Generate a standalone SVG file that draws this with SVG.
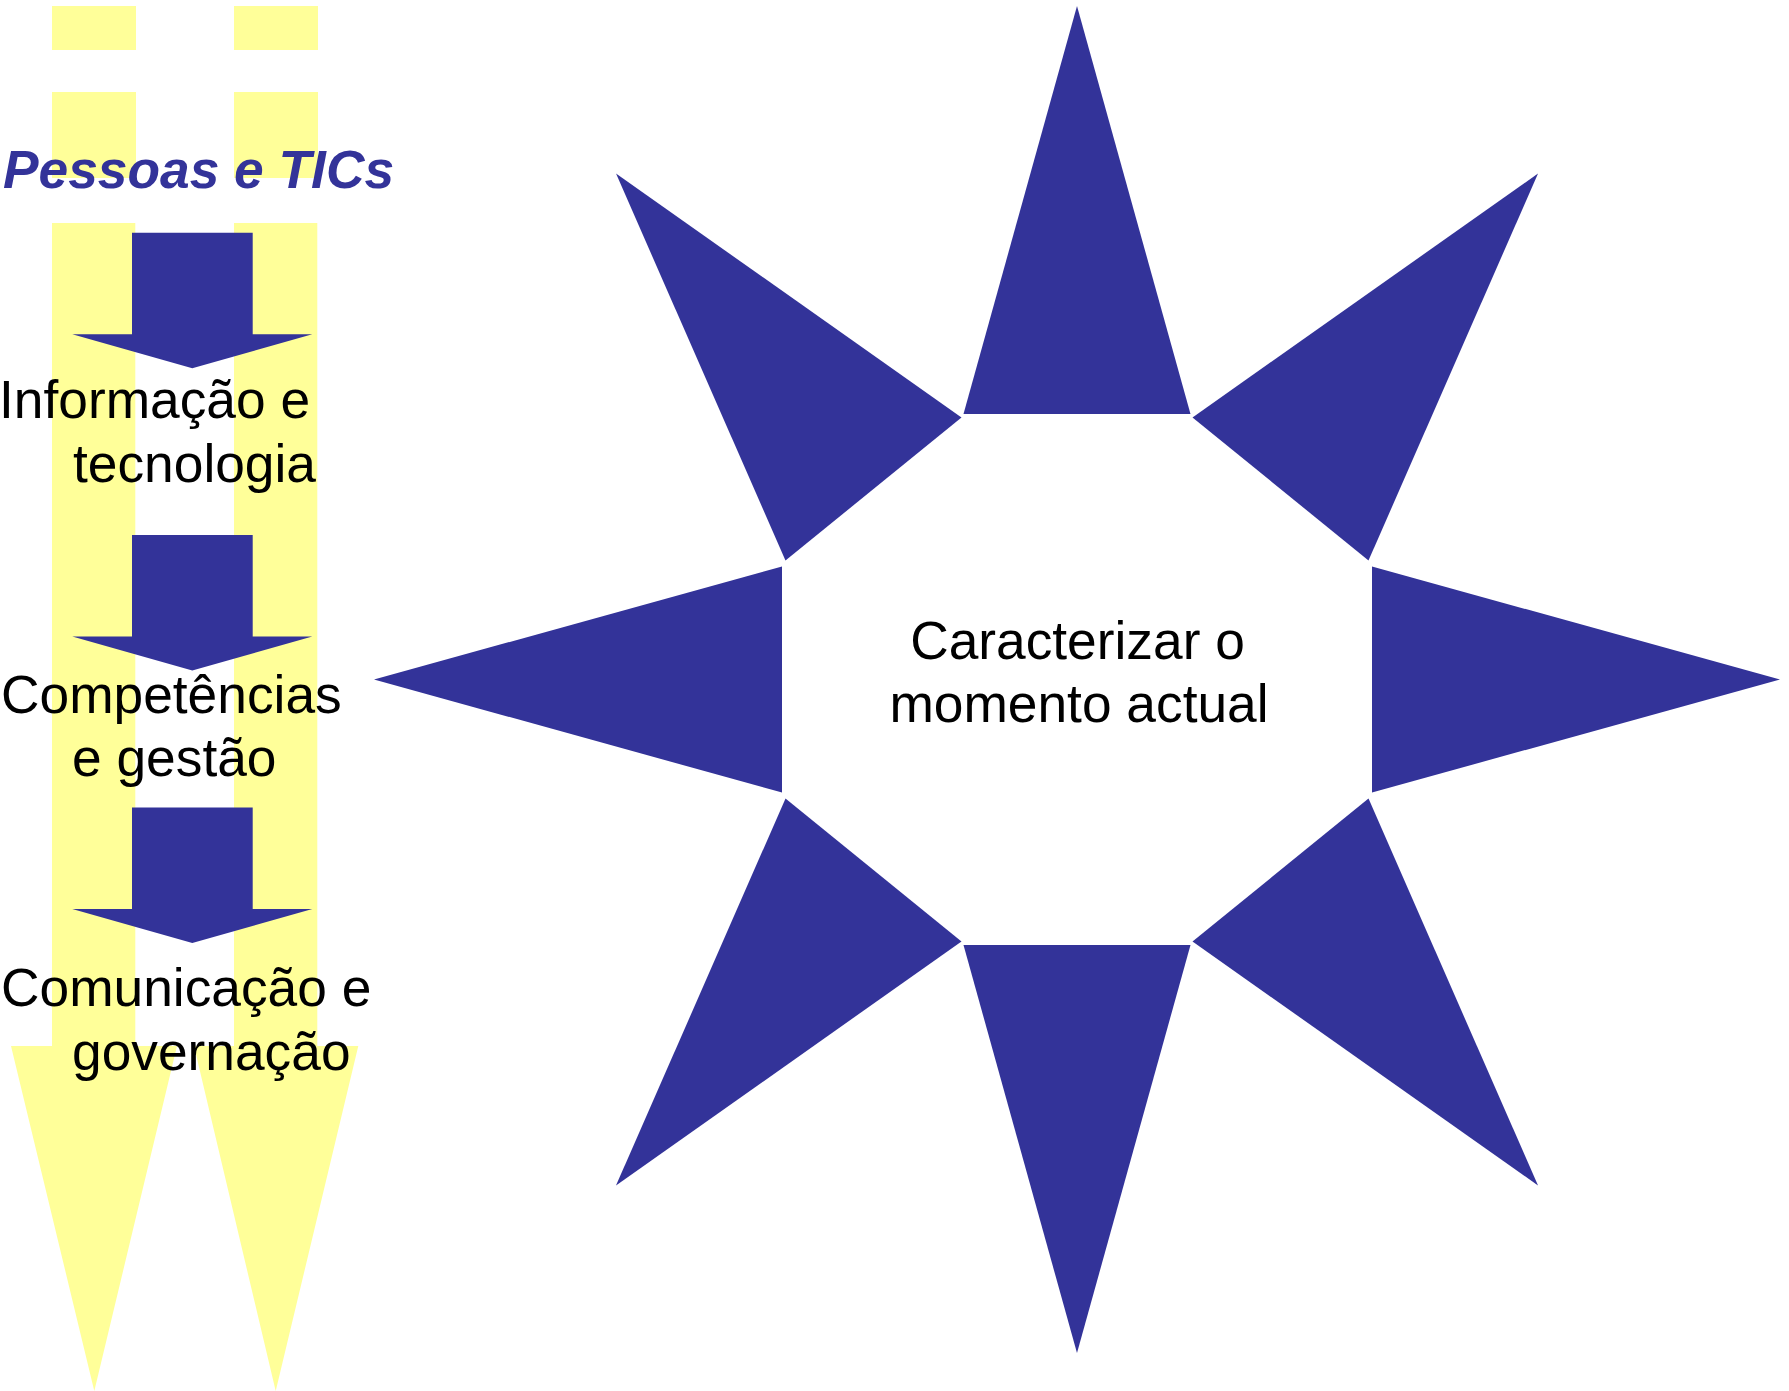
<svg xmlns="http://www.w3.org/2000/svg" width="1789" height="1391" viewBox="0 0 1789 1391">
<style>
.yel{fill:#FFFF99;stroke:none}
.blu{fill:#333399;stroke:none}
.lbl{font-family:"Liberation Sans",Arial,sans-serif;font-size:53.3px;fill:#000000}
.ttl{font-family:"Liberation Sans",Arial,sans-serif;font-size:53.3px;font-weight:bold;font-style:italic;fill:#333399}
</style>
<defs>
<path id="dn" d="M132,0 H252.7 V101.6 H312.3 L192.3,135.6 L72.3,101.6 H132 Z"/>
</defs>
<rect width="1789" height="1391" fill="#FFFFFF"/>
<g id="background-arrows">
<rect class="yel" x="52" y="6" width="84" height="44"/>
<rect class="yel" x="234" y="6" width="84" height="44"/>
<rect class="yel" x="52" y="92" width="84" height="86"/>
<rect class="yel" x="234" y="92" width="84" height="86"/>
<polygon class="yel" points="52,223 135.3,223 135.3,1046 177,1046 94.3,1391 11,1046 52,1046"/>
<polygon class="yel" points="234,223 317.3,223 317.3,1046 358.3,1046 275.7,1391 194,1046 234,1046"/>
</g>
<g id="connectors">
<use href="#dn" class="blu" transform="translate(0,232.7)"/>
<use href="#dn" class="blu" transform="translate(0,535)"/>
<use href="#dn" class="blu" transform="translate(0,807.5)"/>
</g>
<g id="node-pessoas">
<text class="ttl" x="3" y="187.5">Pessoas e TICs</text>
</g>
<g id="node-informacao">
<text class="lbl" x="-1" y="418.3">Informação e</text>
<text class="lbl" x="73" y="481.7">tecnologia</text>
</g>
<g id="node-competencias">
<text class="lbl" x="1" y="712.7">Competências</text>
<text class="lbl" x="72" y="776">e gestão</text>
</g>
<g id="node-comunicacao">
<text class="lbl" x="1" y="1006">Comunicação e</text>
<text class="lbl" x="72" y="1070">governação</text>
</g>
<g id="node-star">
<polygon class="blu" points="1077,6 1190.5,414 963.5,414"/>
<polygon class="blu" points="1538,173.5 1368.5,560.5 1192.5,417.5"/>
<polygon class="blu" points="1780,679.5 1372,792.5 1372,566.5"/>
<polygon class="blu" points="1538,1185.5 1192.5,941.5 1368.5,798.5"/>
<polygon class="blu" points="1077,1353 963.5,945 1190.5,945"/>
<polygon class="blu" points="616,1185.5 785.5,798.5 961.5,941.5"/>
<polygon class="blu" points="374,679.5 782,566.5 782,792.5"/>
<polygon class="blu" points="616,173.5 961.5,417.5 785.5,560.5"/>
<text class="lbl" x="1077.5" y="659" text-anchor="middle">Caracterizar o</text>
<text class="lbl" x="1079" y="722" text-anchor="middle">momento actual</text>
</g>
</svg>
